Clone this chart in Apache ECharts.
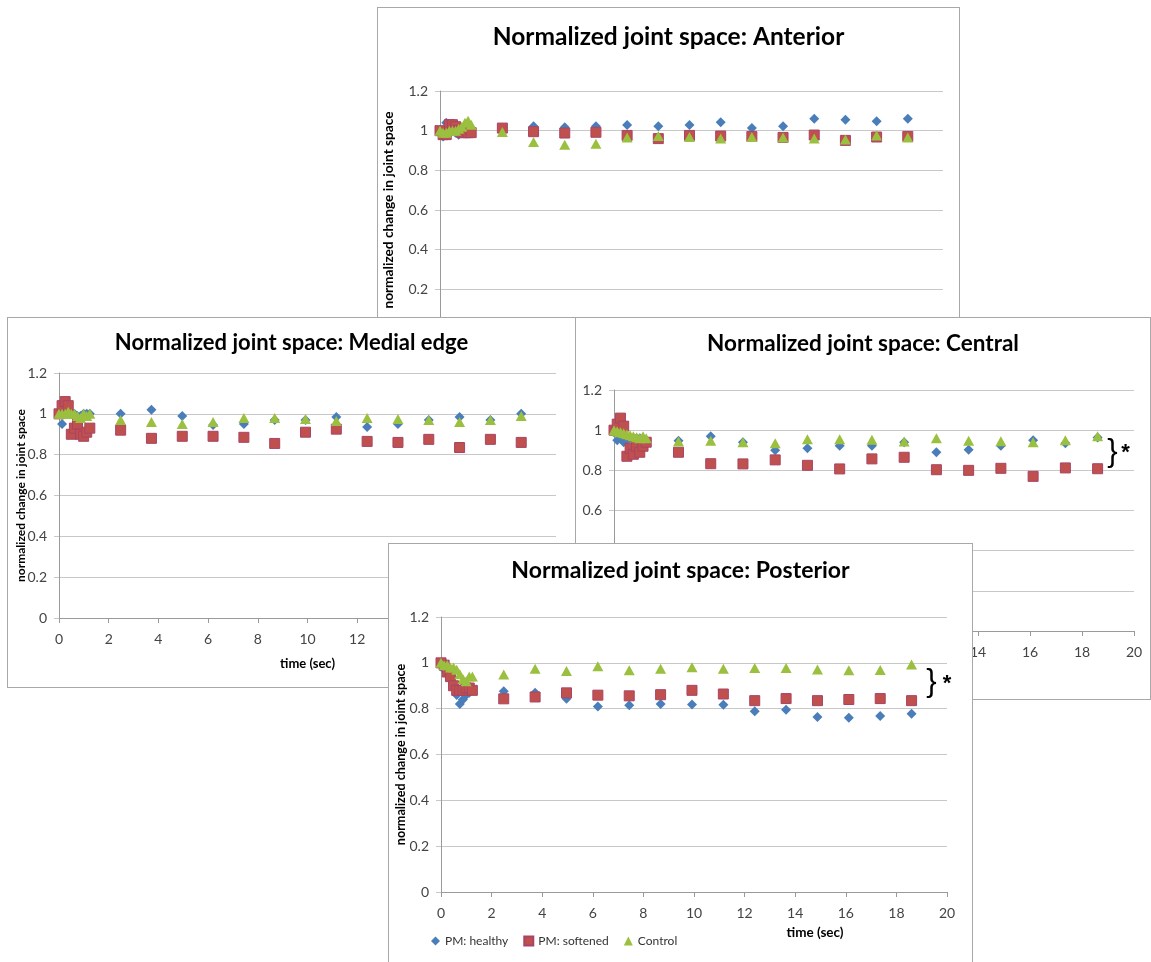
<!DOCTYPE html>
<html>
<head>
<meta charset="utf-8">
<title>Normalized joint space</title>
<script src="https://cdn.jsdelivr.net/npm/echarts@6.0.0/dist/echarts.min.js"></script>
<style>
  html, body { margin: 0; padding: 0; background: #fff; }
  body { position: relative; width: 1151px; height: 962px; overflow: hidden; }
  .panel { position: absolute; background: #fff; border: 1px solid #a8a8a8; box-sizing: border-box; }
</style>
</head>
<body>
<div id="anterior" class="panel" style="left:377px;top:7px;width:583px;height:392px;z-index:1"></div>
<div id="medial" class="panel" style="left:7px;top:317px;width:569px;height:371px;z-index:2"></div>
<div id="central" class="panel" style="left:575px;top:317px;width:576px;height:383px;z-index:3"></div>
<div id="posterior" class="panel" style="left:388px;top:543px;width:585px;height:425px;z-index:4"></div>
<script>
// Sample times (sec): dense early sampling, then the long hold
const TIME = [0, 0.124, 0.248, 0.372, 0.496, 0.62, 0.744, 0.868, 0.992, 1.116, 1.24,
              2.48, 3.72, 4.96, 6.2, 7.44, 8.68, 9.92, 11.16, 12.4, 13.64, 14.88, 16.12, 17.36, 18.6];

const X_TICKS = [0, 2, 4, 6, 8, 10, 12, 14, 16, 18, 20];
const Y_TICKS = [0, 0.2, 0.4, 0.6, 0.8, 1, 1.2];

const SERIES_NAMES = ['PM: healthy', 'PM: softened', 'Control'];

// Anterior
const anteriorHealthy = [1.0, 0.97, 1.04, 1.03, 1.0, 0.99, 0.98, 0.99, 1.0, 1.0, 0.99,
  1.01, 1.022, 1.017, 1.022, 1.029, 1.022, 1.029, 1.042, 1.013, 1.022, 1.06, 1.055, 1.047, 1.06];
const anteriorSoftened = [1.0, 0.98, 0.98, 1.03, 1.03, 1.02, 1.0, 0.99, 0.99, 0.99, 0.99,
  1.013, 0.995, 0.988, 0.992, 0.976, 0.96, 0.976, 0.973, 0.971, 0.966, 0.978, 0.951, 0.968, 0.971];
const anteriorControl = [1.0, 0.99, 0.99, 1.0, 1.0, 1.0, 1.01, 1.02, 1.04, 1.05, 1.03,
  0.993, 0.943, 0.929, 0.934, 0.965, 0.973, 0.968, 0.96, 0.968, 0.965, 0.96, 0.956, 0.976, 0.965];

// Medial edge
const medialHealthy = [1.0, 0.95, 1.0, 1.0, 1.0, 1.0, 0.99, 0.99, 1.0, 1.0, 1.0,
  1.0, 1.02, 0.99, 0.945, 0.95, 0.97, 0.97, 0.985, 0.935, 0.95, 0.97, 0.985, 0.97, 1.0];
const medialSoftened = [1.0, 1.04, 1.06, 1.04, 0.90, 0.93, 0.95, 0.90, 0.89, 0.91, 0.93,
  0.92, 0.88, 0.89, 0.89, 0.885, 0.855, 0.91, 0.925, 0.865, 0.86, 0.875, 0.835, 0.875, 0.86];
const medialControl = [1.0, 1.0, 1.0, 1.01, 1.0, 1.0, 0.99, 0.98, 1.0, 0.99, 1.0,
  0.97, 0.96, 0.95, 0.96, 0.98, 0.98, 0.975, 0.965, 0.98, 0.975, 0.97, 0.96, 0.97, 0.99];

// Central
const centralHealthy = [0.99, 0.95, 0.97, 0.94, 0.95, 0.96, 0.96, 0.96, 0.96, 0.95, 0.95,
  0.947, 0.97, 0.94, 0.90, 0.91, 0.923, 0.923, 0.94, 0.89, 0.903, 0.923, 0.95, 0.935, 0.963];
const centralSoftened = [1.0, 1.03, 1.06, 1.02, 0.87, 0.91, 0.88, 0.92, 0.89, 0.92, 0.94,
  0.89, 0.833, 0.832, 0.852, 0.825, 0.807, 0.857, 0.865, 0.803, 0.80, 0.81, 0.77, 0.812, 0.808];
const centralControl = [1.0, 0.995, 0.99, 0.985, 0.98, 0.975, 0.97, 0.965, 0.96, 0.97, 0.96,
  0.943, 0.947, 0.94, 0.935, 0.955, 0.955, 0.952, 0.943, 0.96, 0.947, 0.945, 0.94, 0.95, 0.97];

// Posterior
const posteriorHealthy = [1.0, 0.97, 0.95, 0.93, 0.90, 0.86, 0.82, 0.84, 0.86, 0.87, 0.88,
  0.876, 0.869, 0.843, 0.81, 0.815, 0.82, 0.818, 0.817, 0.789, 0.795, 0.764, 0.76, 0.768, 0.778];
const posteriorSoftened = [1.0, 0.99, 0.96, 0.94, 0.90, 0.88, 0.88, 0.88, 0.89, 0.89, 0.88,
  0.843, 0.851, 0.869, 0.859, 0.856, 0.861, 0.88, 0.864, 0.835, 0.844, 0.835, 0.84, 0.844, 0.835];
const posteriorControl = [1.0, 0.99, 0.99, 0.98, 0.98, 0.97, 0.95, 0.93, 0.92, 0.94, 0.94,
  0.949, 0.974, 0.964, 0.985, 0.968, 0.974, 0.981, 0.974, 0.978, 0.977, 0.971, 0.968, 0.969, 0.993];

const FONT = 'Lato, "Open Sans", "Liberation Sans", sans-serif';
const COLORS = ['#4a7ebb', '#c0504d', '#9bbf3f'];

function pairs(values) {
  return TIME.map((t, i) => [t, values[i]]);
}

function buildSeries(values) {
  const symbols = ['diamond', 'rect', 'triangle'];
  const sizes = [[10, 10], [10, 10], [11, 10]];
  return values.map((v, i) => ({
    name: SERIES_NAMES[i],
    type: 'scatter',
    data: pairs(v),
    symbol: symbols[i],
    symbolSize: sizes[i],
    itemStyle: i === 1
      ? { color: COLORS[i], borderColor: '#a84466', borderWidth: 1, opacity: 1 }
      : { color: COLORS[i], opacity: 1 },
    emphasis: { disabled: true },
    animation: false
  }));
}

function makePanel(id, cfg) {
  const chart = echarts.init(document.getElementById(id), null, { renderer: 'canvas' });
  const option = {
    animation: false,
    title: {
      text: cfg.title,
      left: 'center',
      top: cfg.titleTop,
      textStyle: { fontFamily: FONT, fontSize: cfg.titleSize, fontWeight: 'bold', color: '#000' }
    },
    grid: Object.assign({ outerBoundsMode: 'none', containLabel: false }, cfg.grid),
    legend: cfg.legend ? Object.assign({
      data: SERIES_NAMES,
      itemWidth: 9,
      itemHeight: 9,
      itemGap: 15,
      textStyle: { fontFamily: FONT, fontSize: 12, color: '#333' }
    }, cfg.legend) : { show: false },
    xAxis: {
      type: 'value',
      min: X_TICKS[0],
      max: X_TICKS[X_TICKS.length - 1],
      interval: X_TICKS[1] - X_TICKS[0],
      name: 'time (sec)',
      nameLocation: 'middle',
      nameGap: cfg.xNameGap,
      nameMoveOverlap: false,
      nameTextStyle: Object.assign({ fontFamily: FONT, fontSize: cfg.xNameSize || 13, fontWeight: 'bold', color: '#000' },
        cfg.xNamePad ? { padding: cfg.xNamePad } : {}),
      axisLine: { show: true, lineStyle: { color: '#9a9a9a' } },
      axisTick: { show: true, length: 5, lineStyle: { color: '#9a9a9a' } },
      axisLabel: { margin: 14, fontFamily: FONT, fontSize: 14, color: '#444' },
      splitLine: { show: false }
    },
    yAxis: {
      type: 'value',
      min: Y_TICKS[0],
      max: Y_TICKS[Y_TICKS.length - 1],
      interval: Y_TICKS[1] - Y_TICKS[0],
      name: cfg.yName ? 'normalized change in joint space' : '',
      nameLocation: 'middle',
      nameGap: cfg.yNameGap || 35,
      nameMoveOverlap: false,
      nameTextStyle: { fontFamily: FONT, fontSize: cfg.yNameSize || 12.5, fontWeight: 'bold', color: '#000' },
      axisLine: { show: true, lineStyle: { color: '#9a9a9a' } },
      axisTick: { show: true, length: 5, lineStyle: { color: '#c8c8c8' } },
      axisLabel: { margin: 12, fontFamily: FONT, fontSize: 14, color: '#444',
        formatter: v => String(Math.round(v * 10) / 10) },
      splitLine: { show: true, lineStyle: { color: '#c8c8c8', width: 1 } }
    },
    series: buildSeries(cfg.values)
  };
  chart.setOption(option);

  if (cfg.brace) {
    const b = chart.convertToPixel({ gridIndex: 0 }, cfg.brace.at);
    const s = chart.convertToPixel({ gridIndex: 0 }, cfg.brace.star);
    chart.setOption({
      graphic: [
        { type: 'text', x: b[0], y: b[1], z: 10,
          style: { text: '}', font: '300 31px "Liberation Sans", sans-serif', fill: '#000',
                   align: 'center', verticalAlign: 'middle' } },
        { type: 'text', x: s[0], y: s[1], z: 10,
          style: { text: '*', font: 'bold 22px "Liberation Sans", sans-serif', fill: '#000',
                   align: 'center', verticalAlign: 'middle' } }
      ]
    });
  }
  return chart;
}

makePanel('anterior', {
  title: 'Normalized joint space: Anterior',
  titleTop: 12, titleSize: 24.5,
  grid: { left: 62, top: 83, width: 503, height: 238 },
  yName: true, yNameGap: 44, yNameSize: 13.7, xNameGap: 38,
  values: [anteriorHealthy, anteriorSoftened, anteriorControl]
});

makePanel('medial', {
  title: 'Normalized joint space: Medial edge',
  titleTop: 9, titleSize: 22,
  grid: { left: 51, top: 55, width: 497, height: 245 },
  yName: true, yNameGap: 32, yNameSize: 12, xNameGap: 39, xNameSize: 13,
  values: [medialHealthy, medialSoftened, medialControl]
});

makePanel('central', {
  title: 'Normalized joint space: Central',
  titleTop: 9, titleSize: 22.5,
  grid: { left: 38, top: 72, width: 520, height: 241 },
  yName: false, xNameGap: 39, xNameSize: 13,
  values: [centralHealthy, centralSoftened, centralControl],
  brace: { at: [19.17, 0.887], star: [19.67, 0.885] }
});

makePanel('posterior', {
  title: 'Normalized joint space: Posterior',
  titleTop: 10, titleSize: 23,
  grid: { left: 52, top: 73, width: 506, height: 275 },
  yName: true, yNameGap: 34, yNameSize: 12.6, xNameGap: 34, xNameSize: 13.5, xNamePad: [0, 0, 0, 242],
  legend: { left: 37, top: 386 },
  values: [posteriorHealthy, posteriorSoftened, posteriorControl],
  brace: { at: [19.38, 0.913], star: [20.0, 0.91] }
});
</script>
</body>
</html>
